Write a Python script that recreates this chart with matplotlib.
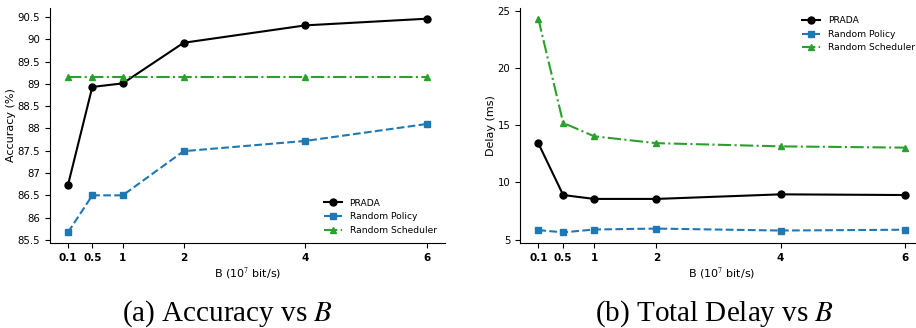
import matplotlib.pyplot as plt
from matplotlib.ticker import FuncFormatter

plt.rcParams['mathtext.fontset'] = 'stix'

bandwidth = [0.1, 0.5, 1, 2, 4, 6]
xtick_labels = ['0.1', '0.5', '1', '2', '4', '6']

acc_prada = [86.73, 88.93, 89.01, 89.92, 90.31, 90.46]
acc_random_policy = [85.67, 86.50, 86.50, 87.49, 87.72, 88.10]
acc_random_sched = [89.16, 89.16, 89.16, 89.16, 89.16, 89.16]

delay_prada = [13.42, 8.90, 8.56, 8.56, 8.96, 8.90]
delay_random_policy = [5.84, 5.64, 5.89, 5.97, 5.80, 5.87]
delay_random_sched = [24.30, 15.20, 14.03, 13.43, 13.15, 13.04]

fig = plt.figure(figsize=(9.16, 3.28), dpi=100)
ax1 = fig.add_axes([0.0546, 0.259, 0.4312, 0.7166])
ax2 = fig.add_axes([0.5677, 0.259, 0.4400, 0.7166])


def draw(ax, prada, policy, sched, ylabel, legend_loc):
    ax.plot(bandwidth, prada, color='black', linestyle='-', marker='o',
            markersize=5, linewidth=1.5, label='PRADA')
    ax.plot(bandwidth, policy, color='tab:blue', linestyle='--', marker='s',
            markersize=5, linewidth=1.5, label='Random Policy')
    ax.plot(bandwidth, sched, color='tab:green', linestyle='-.', marker='^',
            markersize=5, linewidth=1.5, label='Random Scheduler')
    ax.set_xticks(bandwidth)
    ax.set_xticklabels(xtick_labels, fontweight='bold', fontsize=7.5)
    ax.tick_params(axis='y', labelsize=7.3)
    ax.set_xlabel('B (10$^7$ bit/s)', fontsize=8, labelpad=2)
    ax.set_ylabel(ylabel, fontsize=8, labelpad=1)
    ax.spines['top'].set_visible(False)
    ax.spines['right'].set_visible(False)
    ax.legend(loc=legend_loc, frameon=False, fontsize=6.6, handlelength=2.0)


draw(ax1, acc_prada, acc_random_policy, acc_random_sched, 'Accuracy (%)', 'lower right')
ax1.set_yticks([85.5, 86, 86.5, 87, 87.5, 88, 88.5, 89, 89.5, 90, 90.5])
ax1.yaxis.set_major_formatter(FuncFormatter(lambda v, p: '%g' % v))

draw(ax2, delay_prada, delay_random_policy, delay_random_sched, 'Delay (ms)', 'upper right')
ax2.set_yticks([5, 10, 15, 20, 25])

fig.text(0.248, 0.022, '(a) Accuracy vs $B$', ha='center', va='baseline',
         fontsize=21, family='Liberation Serif')
fig.text(0.780, 0.022, '(b) Total Delay vs $B$', ha='center', va='baseline',
         fontsize=21, family='Liberation Serif')

fig.savefig('out.png', dpi=100)
